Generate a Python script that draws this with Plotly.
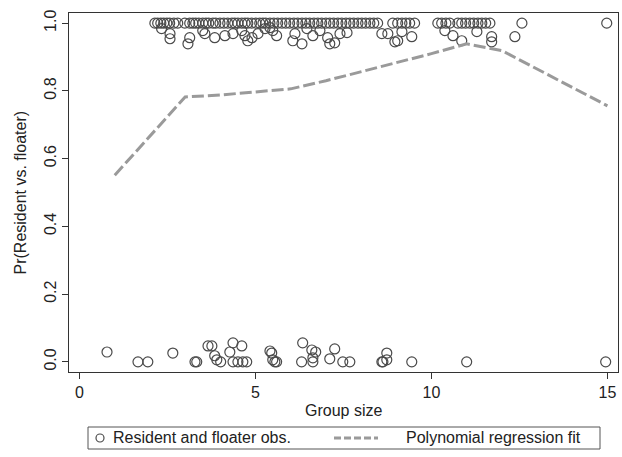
import plotly.graph_objects as go

# Observations (jittered) near Pr = 1 (residents)
top_x = [2.14, 2.22, 2.31, 2.39, 2.48, 2.56, 2.68, 2.79, 2.99, 3.13, 3.22, 3.30, 3.39, 3.50,
         3.59, 3.67, 3.79, 3.87, 3.99, 4.10, 4.21, 4.33, 4.41, 4.50, 4.61, 4.70, 4.78, 4.89,
         5.01, 5.12, 5.21, 5.29, 5.41, 5.52, 5.63, 5.75, 5.86, 5.97, 6.09, 6.20, 6.32, 6.43,
         6.54, 6.66, 6.77, 6.88, 7.00, 7.11, 7.22, 7.34, 7.45, 7.57, 7.68, 7.79, 7.91, 8.02,
         8.13, 8.25, 8.36, 8.47, 8.90, 9.04, 9.16, 9.27, 9.38, 9.52, 10.18, 10.29, 10.41,
         10.52, 10.75, 10.86, 10.97, 11.09, 11.20, 11.32, 11.43, 11.54, 11.66, 12.57, 14.98]
top_y = [1.0] * len(top_x)

low_top_x = [2.33, 2.57, 2.57, 3.13, 3.08, 3.50, 3.56, 3.84, 4.13, 4.36, 4.61, 4.70, 4.78,
             4.90, 5.07, 5.27, 5.41, 5.49, 5.60, 6.06, 6.12, 6.32, 6.46, 6.63, 6.83, 7.05,
             7.11, 7.25, 7.40, 7.60, 8.59, 8.76, 8.96, 9.04, 9.16, 9.44, 10.38, 10.61, 10.86,
             11.29, 11.71, 11.71, 12.37]
low_top_y = [0.984, 0.969, 0.954, 0.957, 0.939, 0.978, 0.969, 0.957, 0.963, 0.969, 0.978,
             0.963, 0.948, 0.957, 0.969, 0.984, 0.987, 0.978, 0.963, 0.948, 0.969, 0.939,
             0.984, 0.963, 0.978, 0.957, 0.939, 0.942, 0.969, 0.972, 0.969, 0.969, 0.945,
             0.948, 0.975, 0.960, 0.978, 0.963, 0.948, 0.975, 0.960, 0.945, 0.960]

# Observations (jittered) near Pr = 0 (floaters)
bot_x = [0.78, 1.66, 1.94, 2.65, 3.28, 3.33, 3.65, 3.76, 3.84, 3.90, 4.01, 4.36, 4.61, 4.27,
         4.36, 4.50, 4.64, 4.75, 5.41, 5.46, 5.49, 5.55, 5.60, 6.34, 6.60, 6.71, 6.63, 6.31,
         6.63, 7.25, 7.11, 7.48, 7.68, 8.59, 8.73, 8.73, 8.62, 9.44, 11.00, 14.95]
bot_y = [0.029, 0.0, 0.0, 0.026, 0.0, 0.0, 0.047, 0.047, 0.018, 0.006, 0.0, 0.056, 0.047,
         0.029, 0.0, 0.0, 0.0, 0.0, 0.032, 0.026, 0.006, 0.0, 0.0, 0.056, 0.035, 0.029,
         0.012, 0.0, 0.0, 0.038, 0.009, 0.0, 0.0, 0.0, 0.026, 0.006, 0.0, 0.0, 0.0, 0.0]

# Polynomial regression fit
fit_x = [1, 3, 4, 5, 6, 7, 8, 9, 10, 11, 12, 15]
fit_y = [0.551, 0.782, 0.788, 0.796, 0.806, 0.830, 0.856, 0.882, 0.910, 0.939, 0.919, 0.756]

x_ticks = [0, 5, 10, 15]
y_ticks = [0, 0.2, 0.4, 0.6, 0.8, 1.0]
y_ticktext = ["0.0", "0.2", "0.4", "0.6", "0.8", "1.0"]

legend_labels = ["Resident and floater obs.", "Polynomial regression fit"]

obs_x = top_x + low_top_x + bot_x
obs_y = top_y + low_top_y + bot_y

FONT = "Liberation Sans, Arial, sans-serif"
W, H = 622, 457
ML, MR, MT, MB = 69, 4, 13, 85
PW, PH = W - ML - MR, H - MT - MB
MARK_COLOR = "#4a4a4a"
FIT_COLOR = "#9a9a9a"
FIT_DASH = "12px,4px"


def px_x(p):
    # page pixel -> paper fraction
    return (p - ML) / PW


def px_y(p):
    return (H - MB - p) / PH


fig = go.Figure()
fig.add_trace(go.Scatter(
    x=obs_x, y=obs_y, mode="markers", name=legend_labels[0],
    marker=dict(symbol="circle-open", size=10, color=MARK_COLOR, line=dict(width=1.2)),
))
fig.add_trace(go.Scatter(
    x=fit_x, y=fit_y, mode="lines", name=legend_labels[1],
    line=dict(color=FIT_COLOR, width=3, dash=FIT_DASH),
))

# Manual legend (Stata style box below the plot)
shapes = [
    dict(type="rect", xref="paper", yref="paper", x0=px_x(88), x1=px_x(600),
         y0=px_y(449), y1=px_y(427), line=dict(color="#555", width=1), fillcolor="white"),
    dict(type="circle", xref="paper", yref="paper", xsizemode="pixel", ysizemode="pixel",
         xanchor=px_x(100), yanchor=px_y(438), x0=-4, x1=4, y0=-4, y1=4,
         line=dict(color=MARK_COLOR, width=1.2)),
    dict(type="line", xref="paper", yref="paper", x0=px_x(334), x1=px_x(378),
         y0=px_y(438), y1=px_y(438), line=dict(color=FIT_COLOR, width=3, dash="7px,3px")),
]
annotations = [
    dict(text=legend_labels[0], xref="paper", yref="paper", x=px_x(111), y=px_y(438),
         xanchor="left", yanchor="middle", showarrow=False, font=dict(size=16)),
    dict(text=legend_labels[1], xref="paper", yref="paper", x=px_x(404), y=px_y(438),
         xanchor="left", yanchor="middle", showarrow=False, font=dict(size=16)),
    dict(text="Group size", xref="paper", yref="paper", x=0.5, y=px_y(410),
         xanchor="center", yanchor="middle", showarrow=False, font=dict(size=16)),
    dict(text="Pr(Resident vs. floater)", xref="paper", yref="paper", x=px_x(20),
         y=0.5, xanchor="center", yanchor="middle", textangle=-90, showarrow=False,
         font=dict(size=16)),
]

fig.update_layout(
    width=W, height=H,
    margin=dict(l=ML, r=MR, t=MT, b=MB),
    paper_bgcolor="white", plot_bgcolor="white",
    font=dict(family=FONT, size=16, color="#222"),
    showlegend=False,
    shapes=shapes, annotations=annotations,
    xaxis=dict(
        range=[-0.3, 15.3], tickvals=x_ticks, ticks="outside", ticklen=6,
        showgrid=False, zeroline=False, showline=True, linecolor="#333", mirror=True,
        tickcolor="#333", tickfont=dict(size=16), automargin=False,
    ),
    yaxis=dict(
        range=[-0.03, 1.03], tickvals=y_ticks, ticktext=y_ticktext, tickangle=-90,
        ticks="outside", ticklen=6, tickcolor="#333",
        showgrid=False, zeroline=False, showline=True, linecolor="#333", mirror=True,
        tickfont=dict(size=16), automargin=False,
    ),
)

fig.write_html(
    "out.html",
    config={"displayModeBar": False},
    post_script="document.body.style.margin='0';document.body.style.overflow='hidden';",
)
